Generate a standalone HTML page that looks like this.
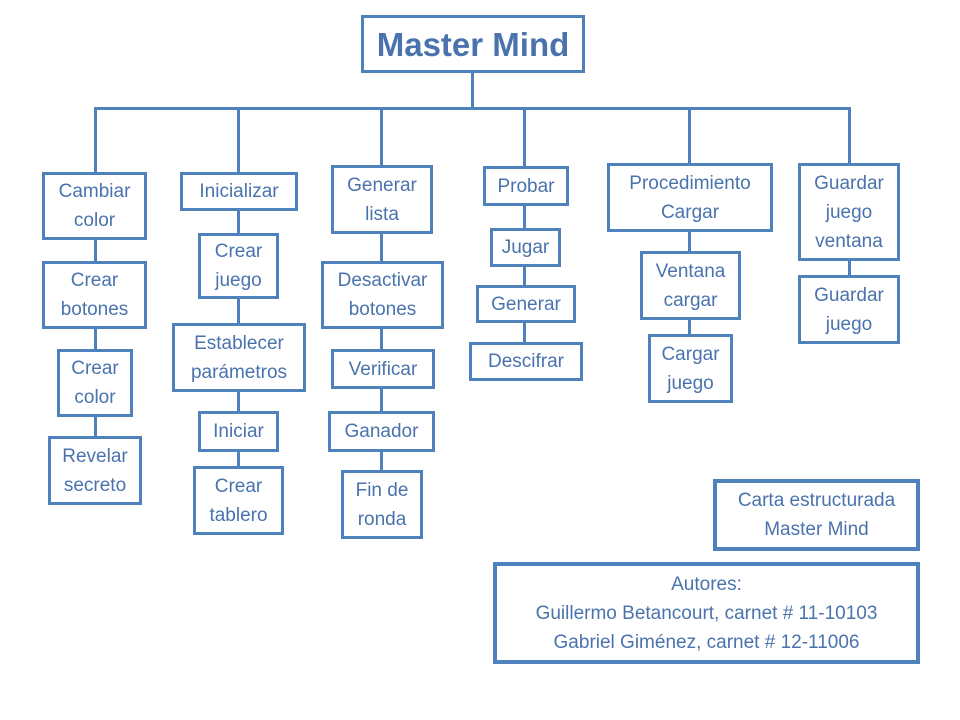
<!DOCTYPE html>
<html><head><meta charset="utf-8"><style>
body{margin:0;background:#fff;width:960px;height:720px;position:relative;overflow:hidden;font-family:"Liberation Sans",sans-serif;color:#4a73ad}
.b{position:absolute;box-sizing:border-box;border:3px solid #4f81bd;background:#fff;display:flex;align-items:center;justify-content:center;text-align:center;font-size:19px;line-height:29px;white-space:nowrap}
.l{position:absolute;background:#4f81bd}
</style></head><body>
<div class="l" style="left:471px;top:70px;width:3px;height:40px"></div>
<div class="l" style="left:94px;top:107px;width:757px;height:3px"></div>
<div class="l" style="left:94px;top:107px;width:3px;height:340px"></div>
<div class="l" style="left:237px;top:107px;width:3px;height:370px"></div>
<div class="l" style="left:380px;top:107px;width:3px;height:370px"></div>
<div class="l" style="left:523px;top:107px;width:3px;height:250px"></div>
<div class="l" style="left:688px;top:107px;width:3px;height:240px"></div>
<div class="l" style="left:848px;top:107px;width:3px;height:180px"></div>
<div class="b" style="left:361px;top:15px;width:224px;height:58px;font-size:33px;font-weight:bold">Master Mind</div>
<div class="b" style="left:42px;top:172px;width:105px;height:68px">Cambiar<br>color</div>
<div class="b" style="left:42px;top:261px;width:105px;height:68px">Crear<br>botones</div>
<div class="b" style="left:57px;top:349px;width:76px;height:68px">Crear<br>color</div>
<div class="b" style="left:48px;top:436px;width:94px;height:69px">Revelar<br>secreto</div>
<div class="b" style="left:180px;top:172px;width:118px;height:39px">Inicializar</div>
<div class="b" style="left:198px;top:233px;width:81px;height:66px">Crear<br>juego</div>
<div class="b" style="left:172px;top:323px;width:134px;height:69px">Establecer<br>parámetros</div>
<div class="b" style="left:198px;top:411px;width:81px;height:41px">Iniciar</div>
<div class="b" style="left:193px;top:466px;width:91px;height:69px">Crear<br>tablero</div>
<div class="b" style="left:331px;top:165px;width:102px;height:69px">Generar<br>lista</div>
<div class="b" style="left:321px;top:261px;width:123px;height:68px">Desactivar<br>botones</div>
<div class="b" style="left:331px;top:349px;width:104px;height:40px">Verificar</div>
<div class="b" style="left:328px;top:411px;width:107px;height:41px">Ganador</div>
<div class="b" style="left:341px;top:470px;width:82px;height:69px">Fin de<br>ronda</div>
<div class="b" style="left:483px;top:166px;width:86px;height:40px">Probar</div>
<div class="b" style="left:490px;top:228px;width:71px;height:39px">Jugar</div>
<div class="b" style="left:476px;top:285px;width:100px;height:38px">Generar</div>
<div class="b" style="left:469px;top:342px;width:114px;height:39px">Descifrar</div>
<div class="b" style="left:607px;top:163px;width:166px;height:69px">Procedimiento<br>Cargar</div>
<div class="b" style="left:640px;top:251px;width:101px;height:69px">Ventana<br>cargar</div>
<div class="b" style="left:648px;top:334px;width:85px;height:69px">Cargar<br>juego</div>
<div class="b" style="left:798px;top:163px;width:102px;height:98px">Guardar<br>juego<br>ventana</div>
<div class="b" style="left:798px;top:275px;width:102px;height:69px">Guardar<br>juego</div>
<div class="b" style="left:713px;top:479px;width:207px;height:72px;border-width:4px">Carta estructurada<br>Master Mind</div>
<div class="b" style="left:493px;top:562px;width:427px;height:102px;border-width:4px">Autores:<br>Guillermo Betancourt, carnet # 11-10103<br>Gabriel Giménez, carnet # 12-11006</div>
</body></html>
